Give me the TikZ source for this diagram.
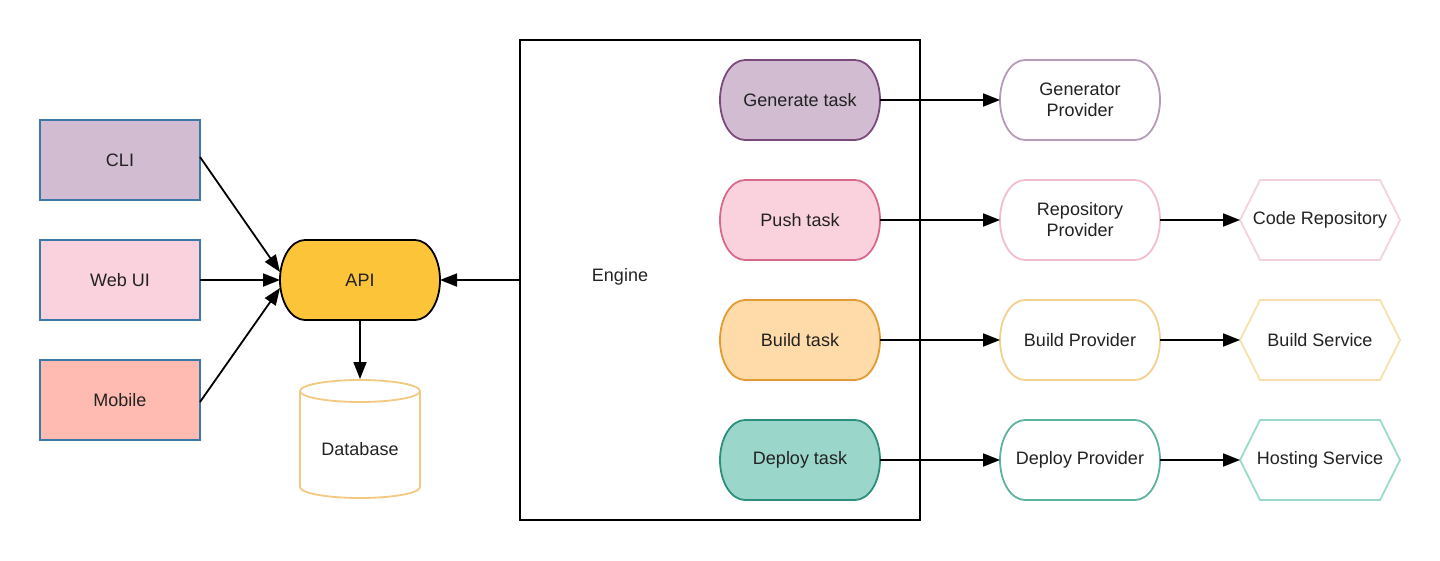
\documentclass[tikz,border=0pt]{standalone}
\usepackage{fontspec}
\setmainfont{Liberation Sans}
\usetikzlibrary{arrows.meta,calc}
\pgfdeclarelayer{bg}
\pgfsetlayers{bg,main}
\definecolor{cliF}{HTML}{D1BCD2}
\definecolor{webF}{HTML}{F9D2DE}
\definecolor{mobF}{HTML}{FFBBB1}
\definecolor{boxB}{HTML}{3B77A8}
\definecolor{apiF}{HTML}{FCC438}
\definecolor{dbB}{HTML}{F0CA80}
\definecolor{genF}{HTML}{D1BCD2}
\definecolor{genB}{HTML}{7B4A7D}
\definecolor{pushF}{HTML}{F9D2DE}
\definecolor{pushB}{HTML}{D8698C}
\definecolor{buildF}{HTML}{FFDBA9}
\definecolor{buildB}{HTML}{E39A33}
\definecolor{depF}{HTML}{9AD6CA}
\definecolor{depB}{HTML}{2A8F7C}
\definecolor{gpB}{HTML}{B59BB7}
\definecolor{rpB}{HTML}{F2BECF}
\definecolor{bpB}{HTML}{F3D08E}
\definecolor{dpB}{HTML}{5DB3A2}
\definecolor{crB}{HTML}{F6D1DD}
\definecolor{bsB}{HTML}{F6DFAE}
\definecolor{hsB}{HTML}{9CD9CC}
\definecolor{txt}{HTML}{222222}
\newcommand\pillshape[3]{%
  \begin{pgfonlayer}{bg}
  \draw[line width=1.8pt, draw=#2, fill=#3]
    ($(#1.north west)+(25,0)$) -- ($(#1.north east)+(-25,0)$)
    arc[start angle=-90, end angle=90, x radius=25, y radius=40]
    -- ($(#1.south west)+(25,0)$)
    arc[start angle=90, end angle=270, x radius=25, y radius=40] -- cycle;
  \end{pgfonlayer}}
\begin{document}
\begin{tikzpicture}[x=1pt,y=-1pt,
  every node/.style={font=\fontsize{18}{21}\selectfont, text=txt, inner sep=0pt, outer sep=0pt},
  client/.style={draw=boxB, line width=1.8pt, minimum width=160pt, minimum height=80pt},
  pill/.style={minimum width=160pt, minimum height=80pt, align=center},
  hexa/.style={line width=1.8pt},
  arr/.style={line width=1.8pt, -{Triangle[length=17pt,width=13pt]}}
]
\useasboundingbox (0,0) rectangle (1440,560);

% clients
\node[client, fill=cliF] (cli) at (120,160) {CLI};
\node[client, fill=webF] (web) at (120,280) {Web UI};
\node[client, fill=mobF] (mob) at (120,400) {Mobile};

% API
\node[pill] (api) at (360,280) {API};
\pillshape{api}{black}{apiF}

% Database
\draw[dbB, line width=1.8pt] (300,391) -- (300,487) arc[start angle=180, end angle=0, x radius=60, y radius=11] -- (420,391);
\draw[dbB, line width=1.8pt] (360,391) ellipse[x radius=60, y radius=11];
\coordinate (dbtop) at (360,379);
\node (db) at (360,449) {Database};

% Engine
\node[draw=black, line width=1.8pt, minimum width=400pt, minimum height=480pt] (eng) at (720,280) {};
\node (englbl) at (620,277) {Engine};

% tasks
\node[pill] (gen) at (800,100) {Generate task};
\pillshape{gen}{genB}{genF}
\node[pill] (push) at (800,220) {Push task};
\pillshape{push}{pushB}{pushF}
\node[pill] (build) at (800,340) {Build task};
\pillshape{build}{buildB}{buildF}
\node[pill] (dep) at (800,460) {Deploy task};
\pillshape{dep}{depB}{depF}

% providers
\node[pill] (gp) at (1080,100) {Generator\\Provider};
\pillshape{gp}{gpB}{white}
\node[pill] (rp) at (1080,220) {Repository\\Provider};
\pillshape{rp}{rpB}{white}
\node[pill] (bp) at (1080,340) {Build Provider};
\pillshape{bp}{bpB}{white}
\node[pill] (dp) at (1080,460) {Deploy Provider};
\pillshape{dp}{dpB}{white}

% services (hexagons)
\draw[hexa, draw=crB] (1240,220) -- (1260,180) -- (1380,180) -- (1400,220) -- (1380,260) -- (1260,260) -- cycle;
\node (cr) at (1320,220) {Code Repository};
\coordinate (crw) at (1240,220);
\draw[hexa, draw=bsB] (1240,340) -- (1260,300) -- (1380,300) -- (1400,340) -- (1380,380) -- (1260,380) -- cycle;
\node (bs) at (1320,340) {Build Service};
\coordinate (bsw) at (1240,340);
\draw[hexa, draw=hsB] (1240,460) -- (1260,420) -- (1380,420) -- (1400,460) -- (1380,500) -- (1260,500) -- cycle;
\node (hs) at (1320,460) {Hosting Service};
\coordinate (hsw) at (1240,460);

% connectors
\draw[arr] ($(cli.east)+(0,-3)$) -- ($(api.west)+(0,-8)$);
\draw[arr] (web.east) -- (api.west);
\draw[arr] ($(mob.east)+(0,2)$) -- ($(api.west)+(0,8)$);
\draw[arr] (eng.west) -- (api.east);
\draw[arr] (api.south) -- (dbtop);

\draw[arr] (gen.east) -- (gp.west);
\draw[arr] (push.east) -- (rp.west);
\draw[arr] (build.east) -- (bp.west);
\draw[arr] (dep.east) -- (dp.west);

\draw[arr] (rp.east) -- (crw);
\draw[arr] (bp.east) -- (bsw);
\draw[arr] (dp.east) -- (hsw);
\end{tikzpicture}
\end{document}
